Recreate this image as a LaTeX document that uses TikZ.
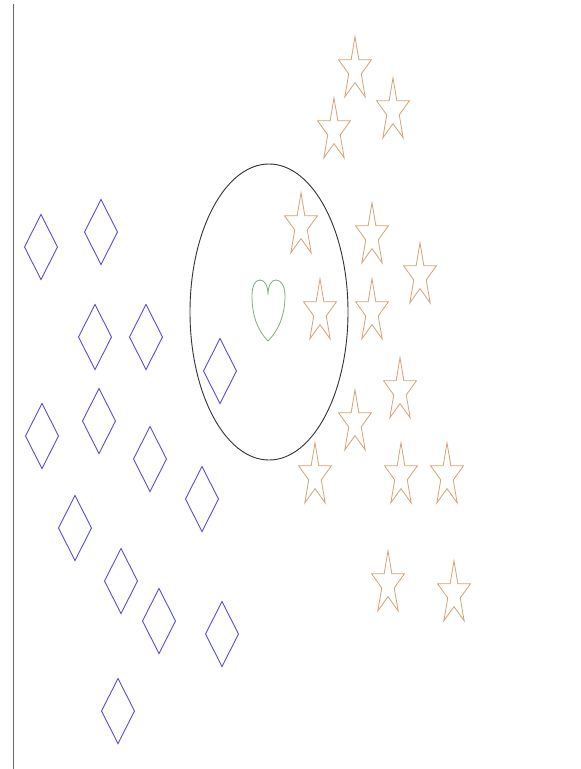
\documentclass[tikz,border=0pt]{standalone}
\usetikzlibrary{shapes.geometric}
\definecolor{starc}{RGB}{214,163,118}
\definecolor{diac}{RGB}{88,78,218}
\definecolor{heartc}{RGB}{132,170,132}
\definecolor{ellc}{RGB}{50,50,50}
\definecolor{linec}{RGB}{105,105,105}
\tikzset{
  starline/.style={draw=starc, line width=0.8pt, line join=miter},
  dialine/.style={draw=diac, line width=0.9pt},
  starpic/.pic={\path[starline] (90:1) -- (126:0.38) -- (162:1) -- (198:0.38) -- (234:1) -- (270:0.38) -- (306:1) -- (342:0.38) -- (18:1) -- (54:0.38) -- cycle;},
  diapic/.pic={\path[dialine] (0,1) -- (1,0) -- (0,-1) -- (-1,0) -- cycle;},
  st/.style={xscale=17.3, yscale=33.2},
  dm/.style={xscale=16.5, yscale=32.5}
}
\begin{document}
\begin{tikzpicture}[x=1pt,y=1pt]
\useasboundingbox (0,0) rectangle (581,-769);
\fill[white] (0,0) rectangle (581,-769);
% left vertical line
\coordinate (ltop) at (13,-4);
\coordinate (lbot) at (13,-769);
\draw[linec, line width=0.9pt] (ltop) -- (lbot);
% ellipse
\node[draw=ellc, line width=0.9pt, ellipse, minimum width=158pt, minimum height=296pt, inner sep=0pt] (ell) at (269,-312) {};
% heart
\draw[heartc, line width=0.8pt] (268,-341) .. controls (258,-331) and (252,-316) .. (252,-296) .. controls (252,-286) and (255,-280) .. (260,-280) .. controls (265,-280) and (268,-286) .. (268,-295) .. controls (268,-286) and (271,-280) .. (276,-280) .. controls (281,-280) and (285,-286) .. (285,-296) .. controls (285,-316) and (278,-331) .. (268,-341) -- cycle;
% stars
\foreach \x/\y in {355/70, 393/111, 334/131, 301/226, 372/236, 420/276, 320/312, 372/312, 400/391, 355/423, 315/476, 401/476, 447/476, 388/584, 454/594}
  \pic[st] at (\x,-\y) {starpic};
% diamonds
\foreach \x/\y in {41/247, 101/232, 95/337, 146/337, 220/371, 42/436, 99/421, 150/459, 202/499, 75/528, 121/581, 159/621, 222/634, 118/711}
  \pic[dm] at (\x,-\y) {diapic};
\end{tikzpicture}
\end{document}
